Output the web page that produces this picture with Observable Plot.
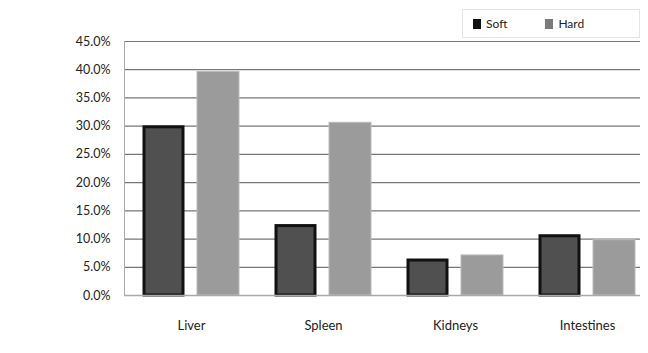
<!DOCTYPE html>
<html>
<head>
<meta charset="utf-8">
<script src="https://cdn.jsdelivr.net/npm/d3@7"></script>
<script src="https://cdn.jsdelivr.net/npm/@observablehq/plot@0.6"></script>
<style>
  body { margin: 0; background: #fff; }
  #wrap { position: relative; width: 648px; height: 353px; font-family: Lato, "Open Sans", sans-serif; }
  #legend { position: absolute; top: 9px; left: 462px; width: 176px; height: 27px; border: 1px solid #e4e4e4; background: #fff;
            display: flex; align-items: center; font-size: 12px; color: #222; }
  .item { display: flex; align-items: center; margin-left: 10px; margin-right: 28px; }
  .sw { width: 8px; height: 10px; margin-right: 5px; }
</style>
</head>
<body>
<div id="wrap"></div>
<script>
const organs = ["Liver", "Spleen", "Kidneys", "Intestines"];
const series = ["Soft", "Hard"];
const softValues = [29.8, 12.3, 6.2, 10.5];
const hardValues = [39.6, 30.6, 7.1, 9.8];
const yTicks = [0, 5, 10, 15, 20, 25, 30, 35, 40, 45];
const colors = {Soft: "#505050", Hard: "#9b9b9b"};

const softData = organs.map((o, i) => ({organ: o, series: "Soft", value: softValues[i]}));
const hardData = organs.map((o, i) => ({organ: o, series: "Hard", value: hardValues[i]}));

const chart = Plot.plot({
  width: 648,
  height: 353,
  marginLeft: 124,
  marginRight: 8,
  marginTop: 41,
  marginBottom: 58,
  style: {fontFamily: "Lato, 'Open Sans', sans-serif", fontSize: "12px", color: "#222", background: "transparent"},
  x: {domain: organs, range: [124, 653], padding: 0},
  y: {domain: [0, 45], ticks: yTicks},
  marks: [
    Plot.gridY(yTicks, {stroke: "#777", strokeOpacity: 1, strokeWidth: 1.2}),
    Plot.frame({anchor: "left", stroke: "#aaa"}),
    Plot.barY(softData, {x: "organ", y: "value", fill: colors.Soft, stroke: "#111", strokeWidth: 3, insetLeft: 19, insetRight: 74}),
    Plot.barY(hardData, {x: "organ", y: "value", fill: colors.Hard, stroke: "#bbb", strokeWidth: 1, insetLeft: 72, insetRight: 18}),
    Plot.ruleY([0], {stroke: "#aaa", strokeWidth: 1.5}),
    Plot.axisY(yTicks, {tickSize: 0, tickPadding: 14, tickFormat: d => d.toFixed(1) + "%", label: null, fill: "#222", fontSize: 12.5}),
    Plot.axisX({tickSize: 0, tickPadding: 25, label: null, fill: "#222", fontSize: 13})
  ]
});

const wrap = document.getElementById("wrap");
wrap.appendChild(chart);

const legend = document.createElement("div");
legend.id = "legend";
series.forEach(s => {
  const item = document.createElement("div");
  item.className = "item";
  const sw = document.createElement("div");
  sw.className = "sw";
  sw.style.background = s === "Soft" ? "#111" : "#7a7a7a";
  const t = document.createElement("span");
  t.textContent = s;
  item.appendChild(sw);
  item.appendChild(t);
  legend.appendChild(item);
});
wrap.appendChild(legend);
</script>
</body>
</html>
